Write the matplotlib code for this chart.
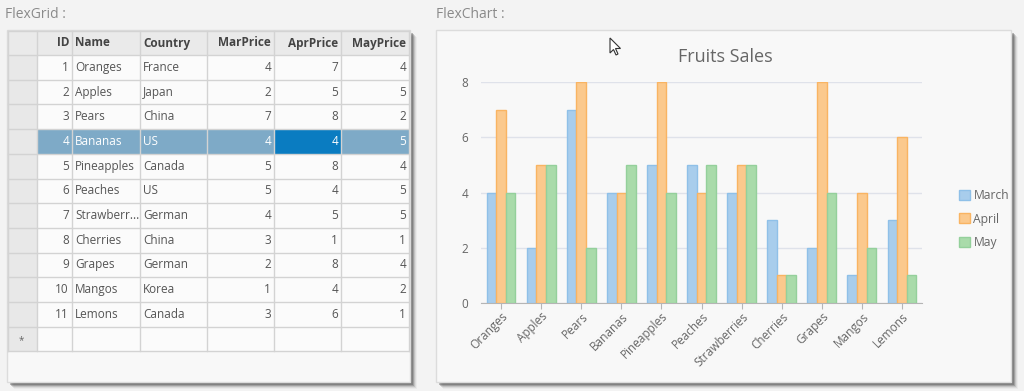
import matplotlib
matplotlib.use('Agg')
import matplotlib.pyplot as plt
import matplotlib.patches as patches
import numpy as np

plt.rcParams['font.family'] = ['Open Sans', 'DejaVu Sans']

# data (same rows in grid and chart)
ids = [1, 2, 3, 4, 5, 6, 7, 8, 9, 10, 11]
names = ['Oranges', 'Apples', 'Pears', 'Bananas', 'Pineapples', 'Peaches',
         'Strawberries', 'Cherries', 'Grapes', 'Mangos', 'Lemons']
countries = ['France', 'Japan', 'China', 'US', 'Canada', 'US',
             'German', 'China', 'German', 'Korea', 'Canada']
mar = [4, 2, 7, 4, 5, 5, 4, 3, 2, 1, 3]
apr = [7, 5, 8, 4, 8, 4, 5, 1, 8, 4, 6]
may = [4, 5, 2, 5, 4, 5, 5, 1, 4, 2, 1]
columns = ['ID', 'Name', 'Country', 'MarPrice', 'AprPrice', 'MayPrice']
series_names = ['March', 'April', 'May']
yticks = [0, 2, 4, 6, 8]

W, H = 1024, 391
fig = plt.figure(figsize=(W / 100, H / 100), dpi=100, facecolor='#f3f3f3')
bg = fig.add_axes([0, 0, 1, 1])
bg.set_xlim(0, W)
bg.set_ylim(H, 0)
bg.axis('off')


def panel(x0, y0, x1, y1):
    # soft shadow right / bottom
    for i, a in enumerate([0.4, 0.3, 0.18, 0.1, 0.05]):
        bg.add_patch(patches.Rectangle((x0 + 3 + i, y0 + 3 + i), x1 - x0, y1 - y0,
                                       facecolor='#555555', alpha=a, edgecolor='none', zorder=1))
    bg.add_patch(patches.Rectangle((x0, y0), x1 - x0, y1 - y0, facecolor='#f8f8f8',
                                   edgecolor='#dcdcdc', linewidth=1, zorder=2))


# ---- FlexGrid ----
bg.text(5, 14, 'FlexGrid :', fontsize=10, color='#8a8a8a', va='center', ha='left')
panel(7, 30, 410, 382)

col_edges = [8, 37, 72, 140, 207, 274, 341, 409]
top, head_h, row_h = 31, 24, 24.7
n_rows = len(names) + 1  # + new row
row_edges = [top, top + head_h] + [top + head_h + row_h * (i + 1) for i in range(n_rows)]
grid_bottom = row_edges[-1]

bg.add_patch(patches.Rectangle((8, top), 401, head_h, facecolor='#eaeaea', edgecolor='none', zorder=3))
bg.add_patch(patches.Rectangle((8, top + head_h), 29, grid_bottom - top - head_h,
                               facecolor='#e8e8e8', edgecolor='none', zorder=3))
bg.add_patch(patches.Rectangle((37, top + head_h), 372, grid_bottom - top - head_h,
                               facecolor='#fbfbfb', edgecolor='none', zorder=3))

sel = 3
sy = row_edges[1 + sel]
bg.add_patch(patches.Rectangle((37, sy), 372, row_h, facecolor='#7eaac7', edgecolor='none', zorder=4))
bg.add_patch(patches.Rectangle((274, sy), 67, row_h, facecolor='#0a7cc1', edgecolor='none', zorder=4))

for x in col_edges:
    bg.plot([x, x], [top, grid_bottom], color='#d3d3d3', lw=1, zorder=5)
for y in row_edges:
    bg.plot([8, 409], [y, y], color='#d3d3d3', lw=1, zorder=5)

fs = 8.5
hy = top + head_h / 2
right_cols = {0, 3, 4, 5}
for c, name in enumerate(columns):
    if c in right_cols:
        bg.text(col_edges[c + 2] - 3, hy, name, ha='right', va='center', fontsize=fs,
                fontweight='bold', color='#444444', zorder=6)
    else:
        bg.text(col_edges[c + 1] + 3, hy, name, ha='left', va='center', fontsize=fs,
                fontweight='bold', color='#444444', zorder=6)

for i in range(len(names)):
    y = row_edges[1 + i] + row_h / 2
    col = 'white' if i == sel else '#555555'
    nm = names[i] if len(names[i]) <= 10 else names[i][:9] + '...'
    bg.text(col_edges[2] - 3, y, str(ids[i]), ha='right', va='center', fontsize=fs, color=col, zorder=6)
    bg.text(col_edges[2] + 3, y, nm, ha='left', va='center', fontsize=fs, color=col, zorder=6)
    bg.text(col_edges[3] + 3, y, countries[i], ha='left', va='center', fontsize=fs, color=col, zorder=6)
    for k, vals in enumerate([mar, apr, may]):
        bg.text(col_edges[5 + k] - 3, y, str(vals[i]), ha='right', va='center', fontsize=fs,
                color=col, zorder=6)
bg.text(21, row_edges[-2] + row_h / 2 + 2, '*', ha='center', va='center', fontsize=7,
        color='#666666', zorder=6)

# ---- FlexChart ----
bg.text(436, 14, 'FlexChart :', fontsize=10, color='#8a8a8a', va='center', ha='left')
panel(436, 30, 1011, 382)
bg.text(725, 57, 'Fruits Sales', fontsize=13, color='#666666', ha='center', va='center', zorder=6)

# mouse cursor
cur = np.array([[0, 0], [0, 15], [3.5, 11.5], [6, 17], [8, 16], [5.5, 10.5], [10.5, 10.5]])
bg.add_patch(patches.Polygon(cur + [610, 38], closed=True, facecolor='white',
                             edgecolor='#333333', lw=0.8, zorder=7))

x0, x1, y0, y1 = 481, 922, 82, 303
ax = fig.add_axes([x0 / W, 1 - y1 / H, (x1 - x0) / W, (y1 - y0) / H])
ax.set_facecolor('none')
ax.set_zorder(5)

x = np.arange(len(names))
bw = 0.24
fills = ['#a8cdec', '#fbc98d', '#a9dbaa']
edges = ['#8fc0e8', '#f9b462', '#94d09b']
for k, (vals, lab) in enumerate(zip([mar, apr, may], series_names)):
    ax.bar(x + (k - 1) * bw, vals, bw, color=fills[k], edgecolor=edges[k], linewidth=1,
           label=lab, zorder=3)

ax.set_xlim(-0.5, len(names) - 0.5)
ax.set_ylim(0, 8)
ax.set_yticks(yticks)
ax.yaxis.grid(True, color='#dfe2ea', lw=1)
ax.set_axisbelow(True)
for s in ['top', 'right', 'left']:
    ax.spines[s].set_visible(False)
ax.spines['bottom'].set_color('#b5b5b5')
ax.tick_params(axis='y', length=0, pad=9, labelsize=8.5, labelcolor='#666666')
ax.tick_params(axis='x', length=4, color='#b5b5b5', pad=1, labelsize=8.5, labelcolor='#666666')
ax.set_xticks(x)
ax.set_xticklabels(names, rotation=45, ha='right', rotation_mode='anchor')

ax.legend(loc='center left', bbox_to_anchor=(1.07, 0.38), frameon=False, fontsize=8.7,
          labelcolor='#666666', handlelength=0.9, handleheight=0.9, handletextpad=0.3,
          labelspacing=0.85, borderpad=0)

fig.savefig('out.png', dpi=100, facecolor=fig.get_facecolor())
